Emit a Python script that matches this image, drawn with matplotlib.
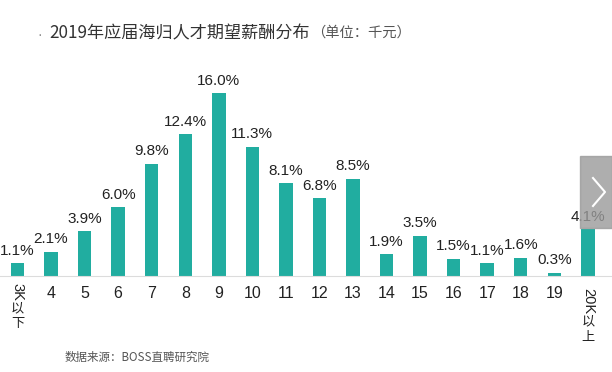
import numpy as np
import matplotlib
matplotlib.use('Agg')
import matplotlib.pyplot as plt
from matplotlib.patches import Rectangle
from matplotlib.lines import Line2D
import matplotlib.transforms as mtrans

plt.rcParams['font.family'] = ['Liberation Sans', 'Noto Sans CJK SC', 'DejaVu Sans']

# 数据
cats = ['3K以下', '4', '5', '6', '7', '8', '9', '10', '11', '12', '13',
        '14', '15', '16', '17', '18', '19', '20K以上']
vals = [1.1, 2.1, 3.9, 6.0, 9.8, 12.4, 16.0, 11.3, 8.1, 6.8, 8.5,
        1.9, 3.5, 1.5, 1.1, 1.6, 0.3, 4.1]
title = '2019年应届海归人才期望薪酬分布'
unit = '（单位：千元）'
source = '数据来源：BOSS直聘研究院'

TEAL = '#21ada0'
INK = '#222222'
W, H = 612, 372
CJK = ['Noto Sans CJK SC', 'DejaVu Sans']

fig = plt.figure(figsize=(W / 100, H / 100), dpi=100)
ax = fig.add_axes([0, (H - 276) / H, 1, (276 - 70) / H])
x = np.arange(len(cats))
ax.bar(x, vals, width=0.40, color=TEAL, zorder=2)
step = 33.55
ax.set_xlim(-17.5 / step, (W - 17.5) / step)
ax.set_ylim(0, (276 - 70) / 11.43)
for s in ['top', 'left', 'right']:
    ax.spines[s].set_visible(False)
ax.spines['bottom'].set_color('#dcdcdc')
ax.spines['bottom'].set_linewidth(0.8)
ax.set_yticks([])
ax.set_xticks([])

for xi, v in zip(x, vals):
    ax.annotate(f'{v:.1f}%', (xi, v), xytext=(0, 4), textcoords='offset points',
                ha='center', va='bottom', fontsize=11, color=INK)

# x 轴标签：数字横排；首尾为竖排（拉丁字母旋转、汉字直立）
tr = mtrans.blended_transform_factory(ax.transData, ax.transAxes)
renderer = fig.canvas.get_renderer()
for xi, c in zip(x, cats):
    if c.endswith('以下') or c.endswith('以上'):
        head, tail = c[:-2], c[-2:]
        top = 5 if head == '3K' else 8.5
        h = ax.annotate(head, (xi, 0), xycoords=tr, xytext=(0, -top), textcoords='offset points',
                        ha='center', va='top', rotation=270, fontsize=10.5, color=INK)
        hlen = h.get_window_extent(renderer).height * 72 / fig.dpi
        y = top + hlen + 1
        for ch in tail:
            ax.annotate(ch, (xi, 0), xycoords=tr, xytext=(0, -y), textcoords='offset points',
                        ha='center', va='top', fontsize=9.5, color=INK, family=CJK)
            y += 11
    else:
        ax.annotate(c, (xi, 0), xycoords=tr, xytext=(0, -7.5), textcoords='offset points',
                    ha='center', va='top', fontsize=11.5, color=INK)

# 标题
fig.text(40 / W, 1 - 35 / H, '·', fontsize=10, color='#888888', ha='center', va='center')
t = fig.text(49 / W, 1 - 33 / H, title, fontsize=12.3, color='#333333', va='center', family=CJK)
tx1 = t.get_window_extent(renderer).x1
fig.text((tx1 + 1) / W, 1 - 33 / H, unit, fontsize=10.3, color='#555555', va='center', family=CJK)
fig.text(65 / W, 1 - 357 / H, source, fontsize=8.3, color='#555555', va='center', family=CJK)

# 右侧翻页按钮
fig.patches.append(Rectangle((580 / W, 1 - 228 / H), 32 / W, 72 / H,
                             transform=fig.transFigure, color='#9a9a9a', alpha=0.8, zorder=5))
fig.lines.append(Line2D([593 / W, 605 / W, 593 / W],
                        [1 - 178 / H, 1 - 192 / H, 1 - 206 / H],
                        transform=fig.transFigure, color='white', lw=1.5, zorder=6))

fig.savefig('out.png', dpi=100)
